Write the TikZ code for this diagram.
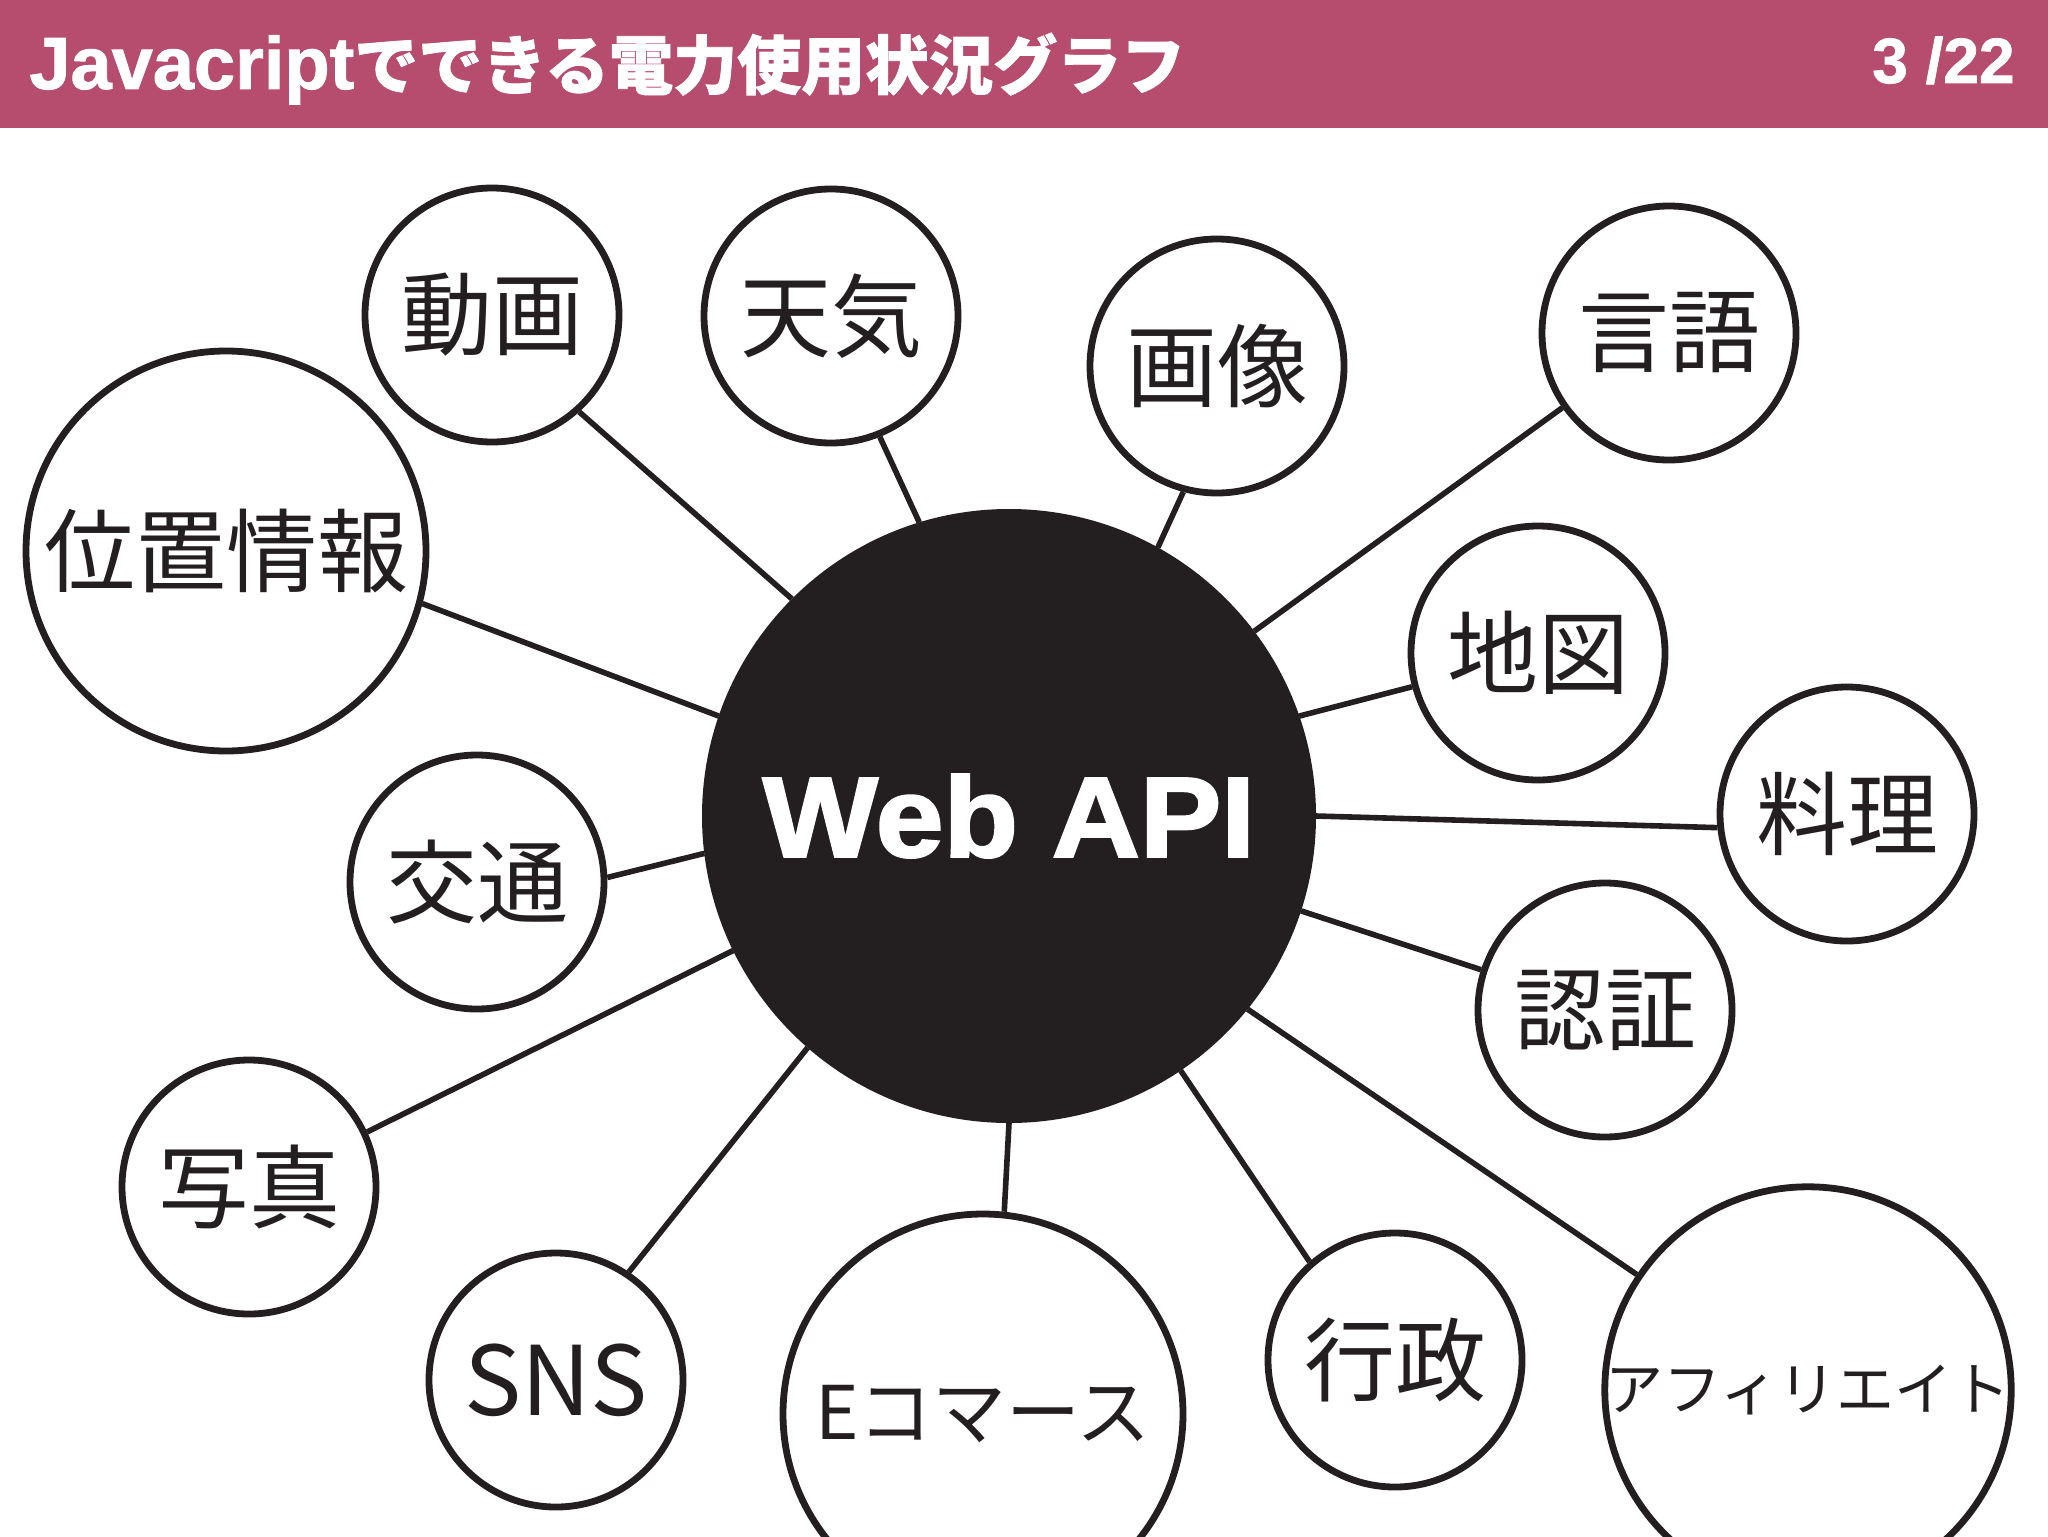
\documentclass[tikz,border=0pt]{standalone}
\usepackage{fontspec}
\usepackage{graphicx}
\newfontfamily\jp{Noto Sans CJK JP}
\newfontfamily\jph{Noto Sans CJK JP}[BoldFeatures={FakeBold=1.2}]
\newfontfamily\lsans{Liberation Sans}[BoldFeatures={FakeBold=1.2}]
\newfontfamily\hubfont{Liberation Sans}[BoldFeatures={FakeBold=2}]
\definecolor{ink}{RGB}{35,31,32}
\definecolor{bar}{RGB}{183,77,110}
\tikzset{
  bub/.style={circle, draw=ink, line width=3.4pt, fill=white, inner sep=0pt,
    minimum size=127pt, text=ink, font=\jp\fontsize{45.5pt}{50pt}\selectfont},
  bigbub/.style={bub, minimum size=200pt},
  hub/.style={circle, draw=ink, fill=ink, line width=3pt, inner sep=0pt,
    minimum size=304pt, text=white},
  link/.style={draw=ink, line width=2.8pt},
}
\begin{document}
\begin{tikzpicture}[x=0.5pt,y=-0.5pt]
\useasboundingbox (0,0) rectangle (2048,1536);
\fill[white] (0,0) rectangle (2048,1536);
\fill[bar] (0,0) rectangle (2048,128);
\node[anchor=base west, inner sep=0pt, text=white] (title) at (29,89)
  {{\lsans\bfseries\fontsize{37pt}{40pt}\selectfont Javacript}{\jph\bfseries\fontsize{32pt}{36pt}\selectfont でできる電力使用状況グラフ}};
\node[anchor=base east, inner sep=0pt, text=white,
  font=\lsans\bfseries\fontsize{32pt}{34pt}\selectfont] (page) at (2015,83) {3 /22};

% hub
\node[hub] (wa) at (1009,816)
  {\scalebox{1.07}[1]{\hubfont\bfseries\fontsize{57pt}{60pt}\selectfont Web API}};

% bubbles
\node[bub] (dg) at (492,315) {動画};
\node[bub] (tk) at (831,316) {天気};
\node[bub] (gz) at (1217,366) {画像};
\node[bub] (gg) at (1669,333) {言語};
\node[bigbub] (ic) at (226,551) {位置情報};
\node[bub] (cz) at (1538,653) {地図};
\node[bub] (ry) at (1847,814) {料理};
\node[bub] (kt) at (477,882) {交通};
\node[bub] (ns) at (1605,1010) {認証};
\node[bub] (sh) at (249,1187) {写真};
\node[bub, font=\jp\fontsize{48pt}{52pt}\selectfont] (sns) at (556,1380) {SNS};
\node[bigbub, font=\jp\fontsize{37pt}{40pt}\selectfont] (ec) at (983,1414) {Eコマース};
\node[bub] (gs) at (1395,1360) {行政};
\node[bigbub, font=\jp\fontsize{29pt}{32pt}\selectfont] (af) at (1808,1390) {アフィリエイト};

% connectors
\draw[link] (dg.312.6) -- (wa.135.7);
\draw[link] (tk.292.8) -- (wa.107.2);
\draw[link] (gz.255.7) -- (wa.61.8);
\draw[link] (gg.215.6) -- (wa.37.4);
\draw[link] (ic.345) -- (wa.161.6);
\draw[link] (cz.195.7) -- (wa.19);
\draw[link] (ry.186.2) -- (wa.0.7);
\draw[link] (kt.2.9) -- (wa.187.4);
\draw[link] (ns.162.1) -- (wa.342.1);
\draw[link] (sh.25.8) -- (wa.206.9);
\draw[link] (sns.56.1) -- (wa.229.5);
\draw[link] (ec.84.4) -- (wa.270);
\draw[link] (gs.131.7) -- (wa.304.6);
\draw[link] (af.146.6) -- (wa.321.4);
\end{tikzpicture}
\end{document}
